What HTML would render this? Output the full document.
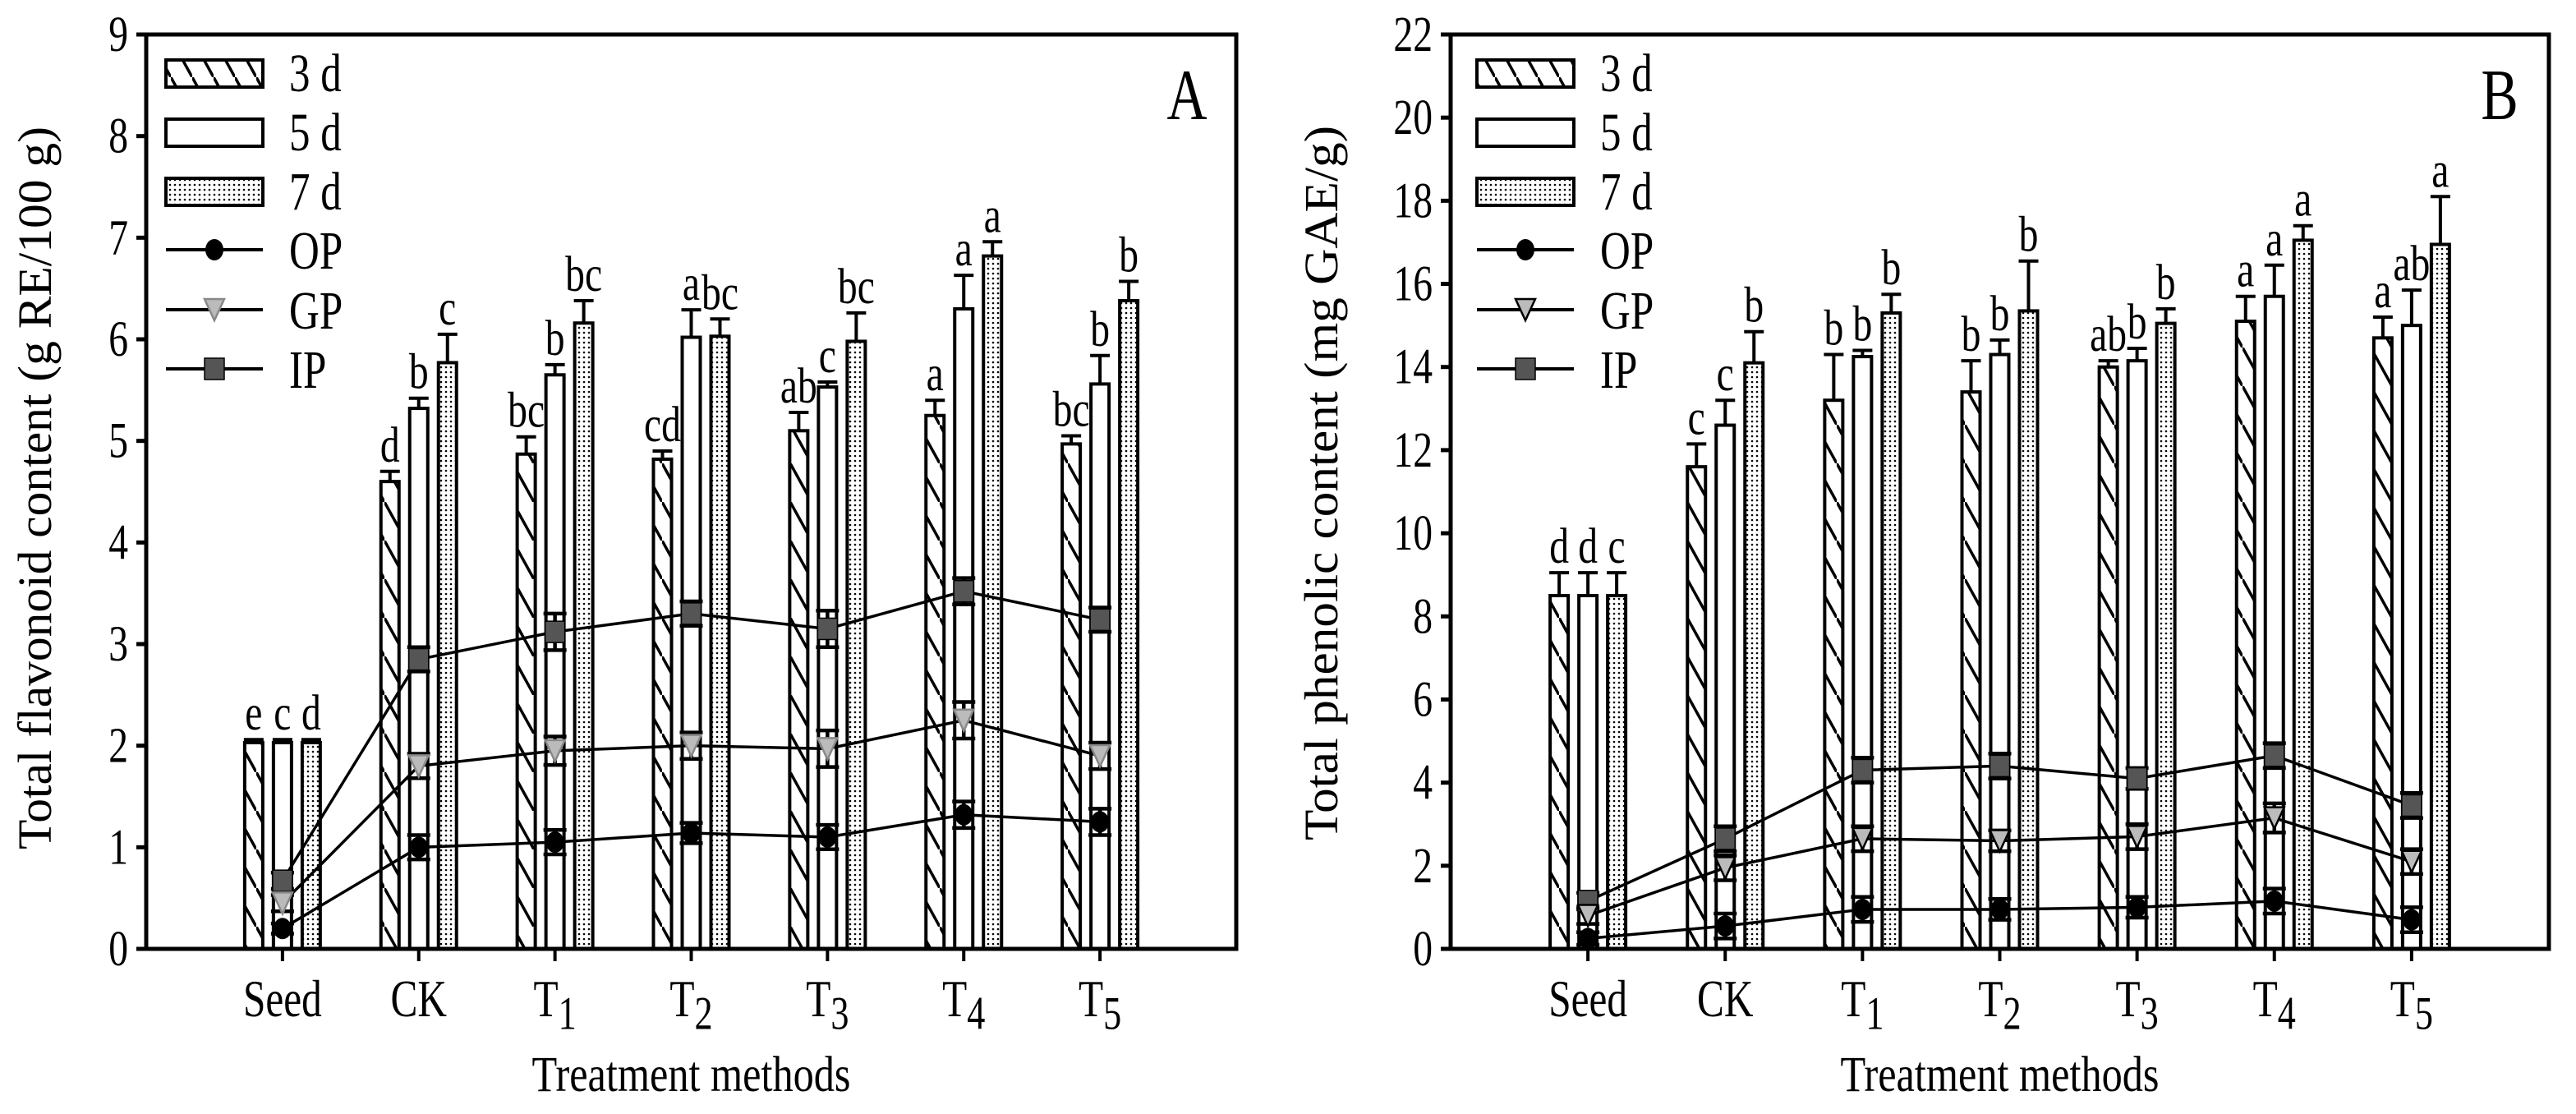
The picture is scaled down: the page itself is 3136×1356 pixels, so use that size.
<!DOCTYPE html>
<html><head><meta charset="utf-8"><style>
html,body{margin:0;padding:0;background:#fff}
svg{display:block}
text{font-family:"Liberation Serif","Times New Roman",serif;fill:#000}
</style></head><body>
<svg id="chart" width="3136" height="1356" viewBox="0 0 3136 1356" xmlns="http://www.w3.org/2000/svg">
<defs>
<pattern id="hatch" patternUnits="userSpaceOnUse" width="26" height="47">
<path d="M-13,-23.5 L13,23.5 M0,0 L26,47 M13,23.5 L39,70.5" stroke="#000" stroke-width="3.5"/>
</pattern>
<pattern id="dots" patternUnits="userSpaceOnUse" width="6" height="6">
<rect width="6" height="6" fill="#fff"/><circle cx="3" cy="3" r="1.3" fill="#000"/>
</pattern>
</defs>
</svg>
<script>
const categories = ["Seed","CK","T1","T2","T3","T4","T5"];
// Panel A
const aBar3 = [2.03,4.60,4.87,4.82,5.10,5.25,4.97];
const aBar3Err = [0.03,0.10,0.17,0.08,0.18,0.15,0.08];
const aBar5 = [2.03,5.32,5.65,6.02,5.53,6.30,5.56];
const aBar5Err = [0.03,0.10,0.10,0.27,0.05,0.33,0.28];
const aBar7 = [2.03,5.77,6.16,6.03,5.98,6.82,6.38];
const aBar7Err = [0.03,0.28,0.22,0.17,0.28,0.14,0.19];
const aLet3 = ["e","d","bc","cd","ab","a","bc"];
const aLet5 = ["c","b","b","a","c","a","b"];
const aLet7 = ["d","c","bc","bc","bc","a","b"];
const aOP = [0.20,1.00,1.05,1.14,1.10,1.32,1.25];
const aOPErr = [0.05,0.12,0.12,0.10,0.12,0.13,0.13];
const aGP = [0.45,1.80,1.95,2.00,1.97,2.25,1.90];
const aGPErr = [0.08,0.12,0.14,0.13,0.18,0.18,0.13];
const aIP = [0.67,2.85,3.12,3.30,3.15,3.52,3.24];
const aIPErr = [0.08,0.12,0.18,0.12,0.18,0.13,0.12];
const aTicks = [0,1,2,3,4,5,6,7,8,9];
// Panel B
const bBar3 = [8.5,11.6,13.2,13.4,14.0,15.1,14.7];
const bBar3Err = [0.55,0.55,1.1,0.75,0.15,0.6,0.5];
const bBar5 = [8.5,12.6,14.25,14.3,14.15,15.7,15.0];
const bBar5Err = [0.55,0.6,0.15,0.35,0.3,0.75,0.85];
const bBar7 = [8.5,14.1,15.3,15.35,15.05,17.05,16.95];
const bBar7Err = [0.55,0.75,0.45,1.2,0.35,0.35,1.15];
const bLet3 = ["d","c","b","b","ab","a","a"];
const bLet5 = ["d","c","b","b","b","a","ab"];
const bLet7 = ["c","b","b","b","b","a","a"];
const bOP = [0.25,0.55,0.95,0.95,1.0,1.15,0.7];
const bOPErr = [0.15,0.3,0.3,0.25,0.25,0.3,0.3];
const bGP = [0.8,1.95,2.65,2.6,2.7,3.15,2.1];
const bGPErr = [0.2,0.3,0.3,0.25,0.3,0.35,0.3];
const bIP = [1.15,2.65,4.3,4.4,4.1,4.65,3.45];
const bIPErr = [0.2,0.3,0.3,0.3,0.25,0.3,0.3];
const bTicks = [0,2,4,6,8,10,12,14,16,18,20,22];

const svg = document.getElementById('chart');
const NS = "http://www.w3.org/2000/svg";
function mk(tag, attrs, parent){
  const e = document.createElementNS(NS, tag);
  for (const k in attrs) e.setAttribute(k, attrs[k]);
  (parent||svg).appendChild(e);
  return e;
}
function txt(str, x, y, size, anchor, parent, sx){
  const t = mk('text', {x:0, y:0, 'font-size':size, 'text-anchor':anchor||'middle',
    transform:`translate(${x},${y}) scale(${sx||0.85},1.1)`}, parent);
  t.textContent = str;
  return t;
}

function panel(cfg){
  const g = mk('g', {});
  
  
  const L=cfg.left, R=cfg.right, T=42, B=1155;
  const y = v => B - (v - 0)/(cfg.ymax) * (B - T);
  const step = (R - L)/8;
  const x = i => L + step*(i+1);
  const barSets = [
    {vals:cfg.b3, err:cfg.e3, let:cfg.l3, off:-35, fill:'url(#hatch)', n:'bar-3d'},
    {vals:cfg.b5, err:cfg.e5, let:cfg.l5, off:0, fill:'#fff', n:'bar-5d'},
    {vals:cfg.b7, err:cfg.e7, let:cfg.l7, off:35, fill:'url(#dots)', n:'bar-7d'}
  ];
  barSets.forEach(s=>{
    s.vals.forEach((v,i)=>{
      const cx = x(i)+s.off, w=22;
      const r = mk('rect', {x:cx-w/2, y:y(v), width:w, height:B-y(v), fill:s.fill, stroke:'#000','stroke-width':4}, g);
      
      
      const top = y(v+s.err[i]);
      mk('path', {d:`M${cx},${y(v)} V${top} M${cx-12},${top} H${cx+12}`, stroke:'#000','stroke-width':4, fill:'none'}, g);
      const lt = txt(s.let[i], cx, top-12, 56, 'middle', g);
      
      
    });
  });
  const series = [
    {vals:cfg.ip, err:cfg.ipe, m:'sq', n:'line-ip'},
    {vals:cfg.gp, err:cfg.gpe, m:'tri', n:'line-gp'},
    {vals:cfg.op, err:cfg.ope, m:'circ', n:'line-op'}
  ];
  series.forEach(s=>{
    const pts = s.vals.map((v,i)=>`${x(i)},${y(v)}`).join(' ');
    const pl = mk('polyline', {points:pts, fill:'none', stroke:'#000','stroke-width':3.5}, g);
    
    
    s.vals.forEach((v,i)=>{
      const cx=x(i), hi=y(v+s.err[i]), lo=y(v-s.err[i]);
      mk('path', {d:`M${cx},${hi} V${lo} M${cx-14},${hi} H${cx+14} M${cx-14},${lo} H${cx+14}`, stroke:'#000','stroke-width':4.5, fill:'none'}, g);
      marker(g, s.m, cx, y(v), cfg.triFill);
    });
  });
  mk('rect', {x:L, y:T, width:R-L, height:B-T, fill:'none', stroke:'#000','stroke-width':5}, g);
  cfg.ticks.forEach(t=>{
    mk('line', {x1:L-12, x2:L, y1:y(t), y2:y(t), stroke:'#000','stroke-width':5}, g);
    const tl = txt(String(t), L-22, y(t)+20, 56, 'end', g);
    
    
  });
  categories.forEach((c,i)=>{
    mk('line', {x1:x(i), x2:x(i), y1:B, y2:B+15, stroke:'#000','stroke-width':4}, g);
    const t = mk('text', {x:0,y:0,'font-size':58,'text-anchor':'middle', transform:`translate(${x(i)},1237) scale(0.85,1.1)`}, g);
    
    
    if (c[0]==='T'){
      t.textContent='T';
      const sb = mk('tspan', {dy:14, 'font-size':52}, t);
      sb.textContent = c.slice(1);
    } else t.textContent=c;
  });
  const xt = mk('text', {x:0, y:0, 'font-size':56, 'text-anchor':'middle', textLength:388, lengthAdjust:'spacingAndGlyphs', transform:`translate(${(L+R)/2},1328) scale(1,1.1)`}, g);
  xt.textContent = 'Treatment methods';
  
  
  const yt = mk('text', {x:0, y:0, 'font-size':58, 'text-anchor':'middle', textLength:cfg.ytLen, lengthAdjust:'spacingAndGlyphs', transform:`translate(${cfg.ytX},${cfg.ytY}) rotate(-90)`}, g);
  yt.textContent = cfg.ytitle;
  
  
  const pl = txt(cfg.letter, cfg.letterX, 145, 80, 'middle', g);
  
  
  const lg = mk('g', {}, g);
  
  
  const bx = cfg.legX, tx = bx+150;
  const fills = ['url(#hatch)','#fff','url(#dots)'];
  const labs = ['3 d','5 d','7 d'];
  const rowsY = [73,145,217];
  labs.forEach((lab,k)=>{
    mk('rect', {x:bx, y:rowsY[k], width:118, height:33, fill:fills[k], stroke:'#000','stroke-width':4}, lg);
    txt(lab, tx, rowsY[k]+38, 60, 'start', lg);
  });
  const lineLabs=['OP','GP','IP'], lm=['circ','tri','sq'], ly=[304,377,449];
  lineLabs.forEach((lab,k)=>{
    mk('line', {x1:bx, x2:bx+118, y1:ly[k], y2:ly[k], stroke:'#000','stroke-width':4}, lg);
    marker(lg, lm[k], bx+59, ly[k], cfg.triFill);
    txt(lab, tx, ly[k]+23, 60, 'start', lg);
  });
}
function marker(g, m, cx, cy, triFill){
  if (m==='circ') mk('ellipse', {cx, cy, rx:11, ry:13, fill:'#000'}, g);
  else if (m==='sq') mk('rect', {x:cx-12, y:cy-13, width:24, height:26, fill:'#555', stroke:'#000','stroke-width':1.5}, g);
  else mk('path', {d:`M${cx-12},${cy-13} L${cx+12},${cy-13} L${cx},${cy+13} Z`, fill:'#bbb', stroke:triFill,'stroke-width':2.5}, g);
}
panel({name:'panel-a-flavonoid', left:178, right:1505, ymax:9, ticks:aTicks,
  b3:aBar3,e3:aBar3Err,l3:aLet3,b5:aBar5,e5:aBar5Err,l5:aLet5,b7:aBar7,e7:aBar7Err,l7:aLet7,
  op:aOP,ope:aOPErr,gp:aGP,gpe:aGPErr,ip:aIP,ipe:aIPErr,
  ytitle:'Total flavonoid content (g RE/100 g)', ytX:62, ytY:594, ytLen:880,
  letter:'A', letterX:1445, legX:202, triFill:'#888'});
panel({name:'panel-b-phenolic', left:1766, right:3103, ymax:22, ticks:bTicks,
  b3:bBar3,e3:bBar3Err,l3:bLet3,b5:bBar5,e5:bBar5Err,l5:bLet5,b7:bBar7,e7:bBar7Err,l7:bLet7,
  op:bOP,ope:bOPErr,gp:bGP,gpe:bGPErr,ip:bIP,ipe:bIPErr,
  ytitle:'Total phenolic content (mg GAE/g)', ytX:1628, ytY:588, ytLen:870,
  letter:'B', letterX:3043, legX:1798, triFill:'#000'});
</script>
</body></html>
